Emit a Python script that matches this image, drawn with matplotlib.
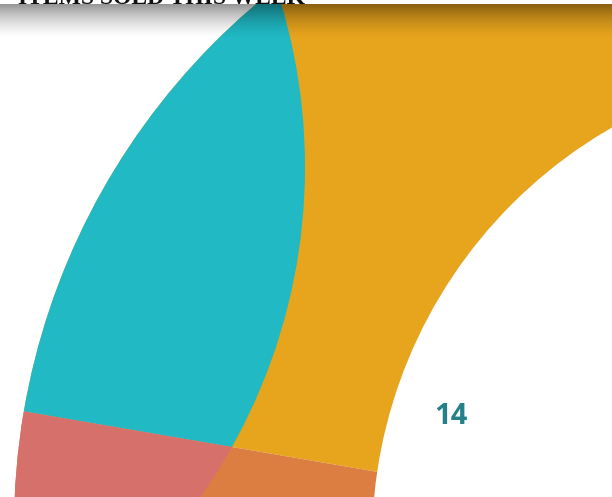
import matplotlib
matplotlib.use("Agg")
import matplotlib.pyplot as plt
import numpy as np
from matplotlib.patches import Circle, Rectangle

# ---- data -------------------------------------------------------------
categories = ["Gold", "Salmon", "Other"]
items_sold = [14, 8, 14]
slice_colors = ["#E7A41D", "#DC7E41", "#8FA7B3"]   # salmon slice shows orange where gold overlaps
overlay_colors = ["#20B9C4", "#D6706A"]             # teal bubble over gold, salmon over orange
title = "ITEMS SOLD THIS WEEK"
center_label = str(items_sold[0])

# ---- layout (pixel coords, y up) -------------------------------------
W, H = 612, 497
PIE_CENTER = (700, -30)
PIE_RADIUS = 686
HOLE_CENTER = (850, -45)
HOLE_RADIUS = 478
BUBBLE_CENTER = (-268, 330)
BUBBLE_RADIUS = 573

fig = plt.figure(figsize=(W / 100, H / 100), dpi=100)
ax = fig.add_axes([0, 0, 1, 1])

wedges, _ = ax.pie(
    items_sold,
    colors=slice_colors,
    startangle=30.3,
    counterclock=True,
    center=PIE_CENTER,
    radius=PIE_RADIUS,
    wedgeprops=dict(linewidth=0),
    frame=True,
)

# overlapping bubble, clipped to each visible slice
for wedge, col in zip(wedges[:2], overlay_colors):
    bubble = Circle(BUBBLE_CENTER, BUBBLE_RADIUS, facecolor=col, edgecolor="none", zorder=2)
    ax.add_patch(bubble)
    bubble.set_clip_path(wedge)

# donut hole
ax.add_patch(Circle(HOLE_CENTER, HOLE_RADIUS, facecolor="white", edgecolor="none", zorder=3))

ax.text(451, H - 416, center_label, ha="center", va="center", fontsize=21,
        fontweight="bold", family="Open Sans", color="#25808A", zorder=4)

# header strip, title (mostly cut off) and drop shadow
ax.add_patch(Rectangle((0, H - 4), W, 4, facecolor="white", edgecolor="none", zorder=5))
ax.text(18, H - 4, title, ha="left", va="baseline", fontsize=17,
        fontweight="bold", family="Liberation Serif", color="#111111", zorder=6)

t = np.linspace(0, 1, 200)[:, None]
shadow = np.zeros((200, 1, 4))
shadow[..., 3] = 0.42 * (1 - t) ** 1.6
ax.imshow(shadow, extent=(0, W, H - 40, H - 4), aspect="auto", zorder=7,
          interpolation="bilinear")

ax.set_xlim(0, W)
ax.set_ylim(0, H)
ax.set_aspect("auto")
ax.axis("off")

fig.savefig("out.png", dpi=100)
